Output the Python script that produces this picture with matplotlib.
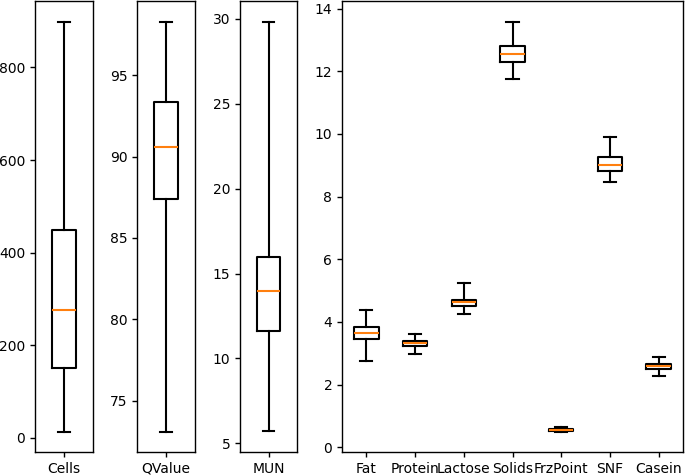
import matplotlib
matplotlib.use("Agg")
import matplotlib.pyplot as plt

# box stats: (label, whislo, q1, med, q3, whishi)
cells = [("Cells", 14, 152, 276, 450, 899)]
qvalue = [("QValue", 73.1, 87.4, 90.6, 93.35, 98.3)]
mun = [("MUN", 5.7, 11.6, 14.0, 16.0, 29.85)]
components = [
    ("Fat", 2.74, 3.44, 3.64, 3.83, 4.39),
    ("Protein", 2.98, 3.22, 3.32, 3.38, 3.62),
    ("Lactose", 4.26, 4.52, 4.62, 4.71, 5.25),
    ("Solids", 11.74, 12.29, 12.56, 12.82, 13.59),
    ("FrzPoint", 0.50, 0.53, 0.56, 0.58, 0.63),
    ("SNF", 8.46, 8.81, 9.02, 9.26, 9.89),
    ("Casein", 2.27, 2.50, 2.59, 2.66, 2.89),
]


def to_stats(rows):
    stats = []
    for label, lo, q1, med, q3, hi in rows:
        stats.append({"label": label, "whislo": lo, "q1": q1, "med": med,
                      "q3": q3, "whishi": hi, "fliers": []})
    return stats


def main():
    plt.rcParams["axes.linewidth"] = 1.0
    plt.rcParams["xtick.major.width"] = 1.0
    plt.rcParams["ytick.major.width"] = 1.0
    fig = plt.figure(figsize=(6.85, 4.75), dpi=100)
    W, H = 685.0, 475.0
    bottom = (H - 452) / H
    height = 451 / H
    spans = [(35, 93), (137, 195), (240, 297), (342, 683)]
    groups = [cells, qvalue, mun, components]
    lw = 1.5
    for (l, r), rows in zip(spans, groups):
        ax = fig.add_axes([l / W, bottom, (r - l) / W, height])
        w = 0.4 if len(rows) == 1 else 0.5
        ax.bxp(to_stats(rows), widths=w, showfliers=False,
               boxprops=dict(linewidth=lw),
               whiskerprops=dict(linewidth=lw),
               capprops=dict(linewidth=lw),
               medianprops=dict(linewidth=lw, color="C1"))
    fig.savefig("out.png", dpi=100)


if __name__ == "__main__":
    main()
